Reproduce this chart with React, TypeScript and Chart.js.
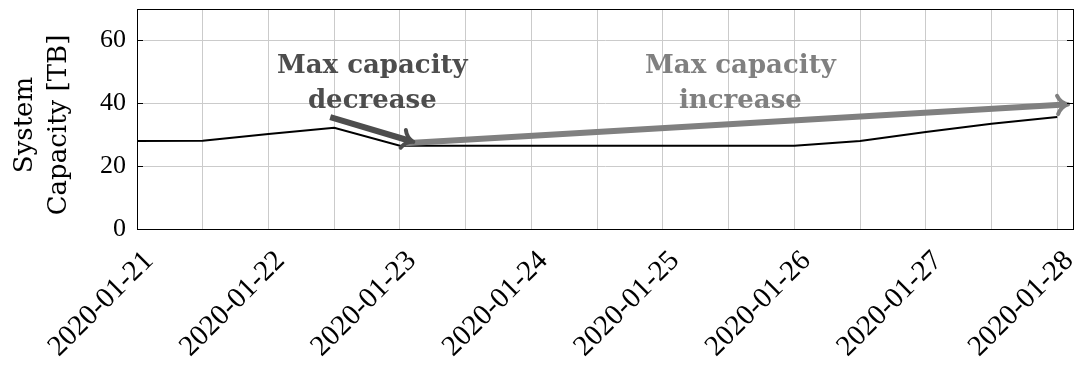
import React, { useEffect, useRef } from 'react';
import { Chart, registerables } from 'chart.js';

Chart.register(...registerables);

// ---- data ----
const dayOffsets = [0, 0.5, 1, 1.5, 2, 2.5, 3, 3.5, 4, 4.5, 5, 5.5, 6, 6.5, 7];
const capacityTB = [28, 28.1, 30.2, 32.2, 26.5, 26.5, 26.5, 26.5, 26.5, 26.5, 26.5, 28, 30.9, 33.5, 35.6];
const dateLabels = ['2020-01-21', '2020-01-22', '2020-01-23', '2020-01-24', '2020-01-25', '2020-01-26', '2020-01-27', '2020-01-28'];
const yTickValues = [0, 20, 40, 60];
const xMax = 7.12;
const yMax = 70;

const decreaseArrowX = [1.47, 2.08];
const decreaseArrowY = [35.6, 28.0];
const increaseArrowX = [2.04, 7.06];
const increaseArrowY = [27.3, 39.6];

const decreaseLabel = ['Max capacity', 'decrease'];
const increaseLabel = ['Max capacity', 'increase'];
const yAxisTitle = ['System', 'Capacity [TB]'];

const DARK = '#4d4d4d';
const GRAY = '#808080';
const GRID = '#cbcbcb';

const TICK_FONT = '"Liberation Serif", serif';
const TEXT_FONT = '"DejaVu Serif", serif';

const arrowHeads = {
  id: 'arrowHeads',
  afterDatasetsDraw(chart: any) {
    const ctx = chart.ctx;
    [0, 1].forEach((di) => {
      const meta = chart.getDatasetMeta(di);
      const ds = chart.data.datasets[di];
      const pts = meta.data;
      if (!pts || pts.length < 2) return;
      const p0 = pts[pts.length - 2];
      const p1 = pts[pts.length - 1];
      const ang = Math.atan2(p1.y - p0.y, p1.x - p0.x);
      const tipX = p1.x + 3 * Math.cos(ang);
      const tipY = p1.y + 3 * Math.sin(ang);
      const L = 14;
      const spread = 0.72;
      ctx.save();
      ctx.strokeStyle = ds.borderColor;
      ctx.lineWidth = 4;
      ctx.lineCap = 'round';
      ctx.lineJoin = 'round';
      ctx.beginPath();
      for (const s of [-1, 1]) {
        const a = ang + Math.PI - s * spread;
        const ex = tipX + L * Math.cos(a);
        const ey = tipY + L * Math.sin(a);
        const ca = ang + Math.PI - s * spread * 0.35;
        const cx = tipX + L * 0.55 * Math.cos(ca);
        const cy = tipY + L * 0.55 * Math.sin(ca);
        ctx.moveTo(ex, ey);
        ctx.quadraticCurveTo(cx, cy, tipX, tipY);
      }
      ctx.stroke();
      ctx.restore();
    });
  },
};

const frameAndText = {
  id: 'frameAndText',
  afterDraw(chart: any) {
    const ctx = chart.ctx;
    const { left, right, top, bottom } = chart.chartArea;
    const xs = chart.scales.x;
    const ys = chart.scales.y;
    ctx.save();
    // inward tick marks on y
    ctx.strokeStyle = '#000';
    ctx.lineWidth = 1;
    ctx.beginPath();
    yTickValues.forEach((v) => {
      const py = Math.round(ys.getPixelForValue(v)) + 0.5;
      ctx.moveTo(left, py);
      ctx.lineTo(left + 6, py);
      ctx.moveTo(right, py);
      ctx.lineTo(right - 6, py);
    });
    ctx.stroke();
    // frame
    ctx.strokeRect(Math.round(left) + 0.5, Math.round(top) + 0.5, Math.round(right - left), Math.round(bottom - top));

    // annotations
    ctx.textAlign = 'center';
    ctx.textBaseline = 'alphabetic';
    ctx.font = 'bold 26px ' + TEXT_FONT;
    const drawLabel = (lines: string[], xv: number, yv: number, color: string) => {
      const cx = xs.getPixelForValue(xv);
      const by = ys.getPixelForValue(yv);
      ctx.fillStyle = color;
      lines.forEach((ln, i) => ctx.fillText(ln, cx, by + i * 35));
    };
    drawLabel(decreaseLabel, 1.79, 49.5, DARK);
    drawLabel(increaseLabel, 4.59, 49.5, GRAY);

    // y-axis title
    ctx.fillStyle = '#000';
    ctx.font = '26px ' + TEXT_FONT;
    const cy = (top + bottom) / 2 + 6;
    ctx.translate(0, cy);
    ctx.rotate(-Math.PI / 2);
    ctx.fillText(yAxisTitle[0], 0, 32);
    ctx.fillText(yAxisTitle[1], 0, 66);
    ctx.restore();
  },
};

export default function App() {
  const ref = useRef<HTMLCanvasElement>(null);
  useEffect(() => {
    document.body.style.margin = '0';
    const canvas = ref.current;
    if (!canvas) return;
    const chart = new Chart(canvas, {
      type: 'line',
      data: {
        datasets: [
          {
            data: decreaseArrowX.map((x, i) => ({ x, y: decreaseArrowY[i] })),
            borderColor: DARK,
            borderWidth: 6,
            pointRadius: 0,
            borderCapStyle: 'butt',
          },
          {
            data: increaseArrowX.map((x, i) => ({ x, y: increaseArrowY[i] })),
            borderColor: GRAY,
            borderWidth: 6,
            pointRadius: 0,
            borderCapStyle: 'butt',
          },
          {
            data: dayOffsets.map((x, i) => ({ x, y: capacityTB[i] })),
            borderColor: '#000',
            borderWidth: 2,
            pointRadius: 0,
            tension: 0,
          },
        ],
      },
      options: {
        responsive: false,
        animation: false,
        events: [],
        layout: { padding: { top: 9, right: 3, left: 0, bottom: 0 } },
        plugins: { legend: { display: false }, tooltip: { enabled: false } },
        scales: {
          x: {
            type: 'linear',
            min: 0,
            max: xMax,
            afterBuildTicks: (scale: any) => {
              scale.ticks = dayOffsets.map((v) => ({ value: v }));
            },
            afterFit: (scale: any) => {
              scale.height = 136;
              scale.paddingLeft = 0;
              scale.paddingRight = 0;
            },
            grid: { color: GRID, lineWidth: 1, drawTicks: false },
            border: { display: true, color: '#000', width: 1 },
            ticks: {
              autoSkip: false,
              maxRotation: 45,
              minRotation: 45,
              padding: 15,
              labelOffset: 12,
              color: '#000',
              font: { family: TICK_FONT, size: 29 },
              callback: (v: any) => (Number.isInteger(v) ? dateLabels[v] : ''),
            },
          },
          y: {
            min: 0,
            max: yMax,
            afterBuildTicks: (scale: any) => {
              scale.ticks = yTickValues.map((v) => ({ value: v }));
            },
            afterFit: (scale: any) => {
              scale.width = 137;
              scale.paddingTop = 0;
              scale.paddingBottom = 0;
            },
            grid: { color: GRID, lineWidth: 1, drawTicks: false },
            border: { display: true, color: '#000', width: 1 },
            ticks: {
              padding: 11,
              color: '#000',
              font: { family: TICK_FONT, size: 26 },
            },
          },
        },
      },
      plugins: [arrowHeads, frameAndText],
    } as any);
    return () => chart.destroy();
  }, []);
  return (
    <div style={{ width: 1076, height: 365 }}>
      <canvas ref={ref} width={1076} height={365} />
    </div>
  );
}
